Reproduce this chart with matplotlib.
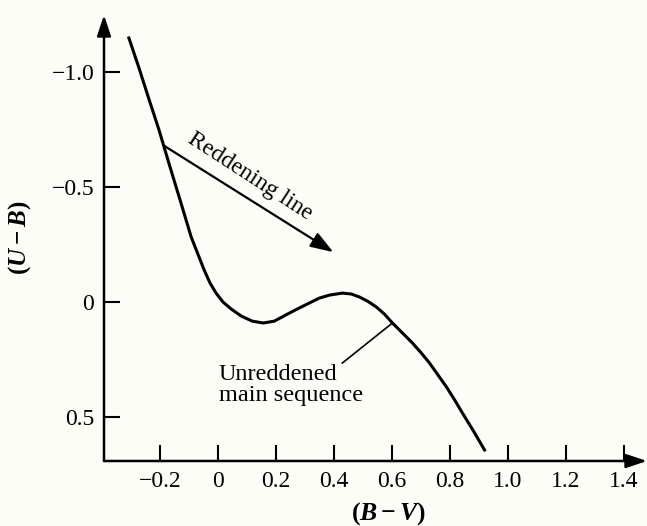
import matplotlib
matplotlib.use('Agg')
import matplotlib.pyplot as plt

# unreddened main sequence
bv_curve = [-0.308, -0.273, -0.239, -0.204, -0.170, -0.128, -0.093, -0.048, -0.028,
            -0.007, 0.017, 0.045, 0.080, 0.118, 0.156, 0.194, 0.246, 0.280, 0.349,
            0.384, 0.429, 0.460, 0.488, 0.516, 0.547, 0.574, 0.602, 0.637, 0.671,
            0.702, 0.730, 0.789, 0.817, 0.844, 0.882, 0.920]
ub_curve = [-1.148, -1.017, -0.883, -0.748, -0.604, -0.430, -0.283, -0.139, -0.083,
            -0.039, 0.000, 0.030, 0.061, 0.083, 0.091, 0.083, 0.048, 0.026, -0.017,
            -0.030, -0.039, -0.035, -0.022, -0.004, 0.022, 0.052, 0.091, 0.135, 0.178,
            0.222, 0.265, 0.370, 0.426, 0.483, 0.561, 0.643]

# reddening vector (start on curve, arrow tip)
redden_bv = [-0.187, 0.398]
redden_ub = [-0.68, -0.217]

# leader line for the label (text end, point on curve)
leader_bv = [0.429, 0.602]
leader_ub = [0.265, 0.091]

xticks = [-0.2, 0, 0.2, 0.4, 0.6, 0.8, 1.0, 1.2, 1.4]
xtick_labels = ['\u22120.2', '0', '0.2', '0.4', '0.6', '0.8', '1.0', '1.2', '1.4']
yticks = [-1.0, -0.5, 0, 0.5]
ytick_labels = ['\u22121.0', '\u22120.5', '0', '0.5']

plt.rcParams['font.family'] = ['Liberation Serif', 'DejaVu Serif']
plt.rcParams['mathtext.fontset'] = 'custom'
plt.rcParams['mathtext.rm'] = 'Liberation Serif:bold'
plt.rcParams['mathtext.it'] = 'Liberation Serif:italic:bold'

bg = '#fdfdf7'
fig = plt.figure(figsize=(6.47, 5.26), dpi=100, facecolor=bg)
ax = fig.add_axes([104/647, 65/526, 1 - 104/647, (461 - 15)/526])
ax.set_facecolor(bg)

ax.set_xlim(-0.394, 1.481)
ax.set_ylim(0.691, -1.248)

ax.plot(bv_curve, ub_curve, color='black', lw=2.2, solid_joinstyle='round')

# reddening line with arrow
ax.annotate('', xy=(redden_bv[1], redden_ub[1]), xytext=(redden_bv[0], redden_ub[0]),
            arrowprops=dict(arrowstyle='-|>,head_length=1.0,head_width=0.35',
                            mutation_scale=14, lw=1.6, color='black',
                            shrinkA=0, shrinkB=0))
ax.text(0.109, -0.545, 'Reddening line', rotation=-33, ha='center', va='center',
        rotation_mode='anchor', fontsize=17)

ax.plot(leader_bv, leader_ub, color='black', lw=1.2)
ax.text(0.003, 0.36, 'Unreddened\nmain sequence', ha='left', va='center',
        fontsize=17.5, linespacing=1.0)

# axes with arrow heads
for s in ax.spines.values():
    s.set_visible(False)
arrow = dict(arrowstyle='-|>,head_length=0.9,head_width=0.3', mutation_scale=14,
             lw=1.8, color='black', shrinkA=0, shrinkB=0)
ax.annotate('', xy=(0, 1), xytext=(0, 0), xycoords='axes fraction', arrowprops=arrow)
ax.annotate('', xy=(1, 0), xytext=(0, 0), xycoords='axes fraction', arrowprops=arrow)

ax.set_xticks(xticks)
ax.set_xticklabels(xtick_labels)
ax.set_yticks(yticks)
ax.set_yticklabels(ytick_labels)
ax.tick_params(direction='in', length=11.5, width=1.5, labelsize=17, pad=7)

fig.text(388/647, 1 - 514/526, r'$(B-V)$', ha='center', va='center', fontsize=18.5)
fig.text(20/647, 1 - 238/526, r'$(U-B)$', ha='center', va='center', fontsize=18,
         rotation=90)

fig.savefig('out.png', dpi=100, facecolor=bg)
